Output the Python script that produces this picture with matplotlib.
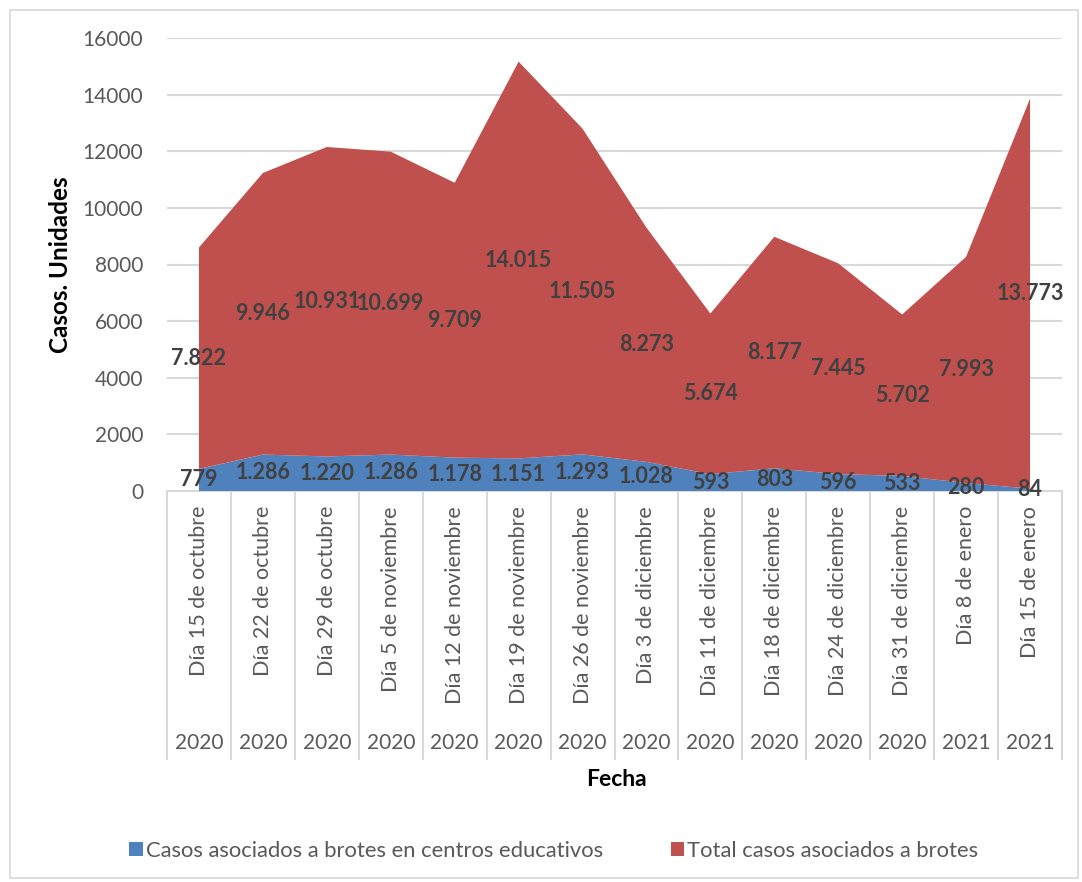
import matplotlib
matplotlib.use("Agg")
import matplotlib.pyplot as plt
from matplotlib.patches import Rectangle

categories = ["Día 15 de octubre", "Día 22 de octubre", "Día 29 de octubre",
              "Día 5 de noviembre", "Día 12 de noviembre", "Día 19 de noviembre",
              "Día 26 de noviembre", "Día 3 de diciembre", "Día 11 de diciembre",
              "Día 18 de diciembre", "Día 24 de diciembre", "Día 31 de diciembre",
              "Día 8 de enero", "Día 15 de enero"]
years = ["2020"] * 12 + ["2021"] * 2
educativos = [779, 1286, 1220, 1286, 1178, 1151, 1293, 1028, 593, 803, 596, 533, 280, 84]
total = [7822, 9946, 10931, 10699, 9709, 14015, 11505, 8273, 5674, 8177, 7445, 5702, 7993, 13773]
yticks = [0, 2000, 4000, 6000, 8000, 10000, 12000, 14000, 16000]

BLUE = "#4F81BD"
RED = "#C0504D"
FONT = "Lato"

W, H = 1082, 882
fig = plt.figure(figsize=(W / 100, H / 100), dpi=100)
L, R, T, B = 167, 1062, 38, 491
ax = fig.add_axes([L / W, 1 - B / H, (R - L) / W, (B - T) / H])

x = list(range(len(categories)))
ax.stackplot(x, educativos, total, colors=[BLUE, RED], zorder=2,
             labels=["Casos asociados a brotes en centros educativos",
                     "Total casos asociados a brotes"])
ax.set_xlim(-0.5, len(categories) - 0.5)
ax.set_ylim(0, 16000)
ax.set_yticks(yticks)
ax.set_yticklabels([str(v) for v in yticks], fontsize=15, color="#595959", family=FONT)
ax.tick_params(axis="y", length=0, pad=17)
ax.set_xticks([])
ax.grid(axis="y", color="#d9d9d9", linewidth=1.5, zorder=0)
ax.set_axisbelow(True)
for s in ["top", "right", "left"]:
    ax.spines[s].set_visible(False)
ax.spines["bottom"].set_color("#d9d9d9")
ax.spines["bottom"].set_linewidth(1.5)
ax.spines["bottom"].set_zorder(1)


def fmt(v):
    return f"{v:,}".replace(",", ".")


for i in x:
    b = educativos[i]
    t = total[i]
    ax.text(i, b / 2, fmt(b), ha="center", va="center", fontsize=15.5,
            fontweight="bold", color="#404040", family=FONT, zorder=5)
    ax.text(i, b + t / 2, fmt(t), ha="center", va="center", fontsize=15.5,
            fontweight="bold", color="#404040", family=FONT, zorder=5)

trans = ax.get_xaxis_transform()
ph = B - T
for i, c in enumerate(categories):
    ax.text(i, -(506 - B) / ph, c, rotation=90, ha="center", va="top",
            fontsize=15.5, color="#595959", family=FONT, transform=trans)
    ax.text(i, -(743 - B) / ph, years[i], ha="center", va="center",
            fontsize=15, color="#595959", family=FONT, transform=trans)

ax.vlines([k - 0.5 for k in range(len(categories) + 1)], 0, -(760 - B) / ph,
          transform=trans, colors="#d9d9d9", linewidth=1.5, clip_on=False)

fig.text(60 / W, 1 - 265 / H, "Casos. Unidades", rotation=90, ha="center", va="center",
         fontsize=17.5, fontweight="bold", color="black", family=FONT)
fig.text(616 / W, 1 - 780 / H, "Fecha", ha="center", va="center",
         fontsize=16.5, fontweight="bold", color="black", family=FONT)

leg = fig.legend(loc="center", bbox_to_anchor=(554 / W, 1 - 851 / H), ncol=2,
                 frameon=False, handlelength=0.6, handleheight=0.6,
                 handletextpad=0.15, columnspacing=3.1,
                 prop={"family": FONT, "size": 15.8})
for txt in leg.get_texts():
    txt.set_color("#595959")

fig.patches.append(Rectangle((10 / W, 4 / H), 1068 / W, 868 / H, transform=fig.transFigure,
                             fill=False, edgecolor="#d9d9d9", linewidth=1.2))

fig.savefig("out.png", dpi=100)
